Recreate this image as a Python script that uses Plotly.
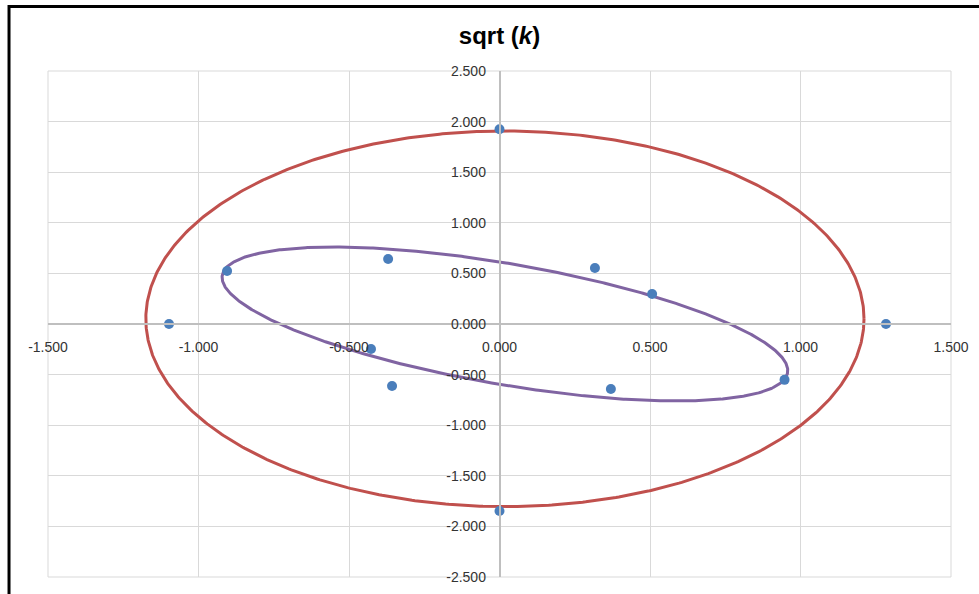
import numpy as np
import plotly.graph_objects as go

# ---- data ----
pts_x = [0.000, -1.098, 1.284, 0.000, -0.905, -0.370, 0.317, 0.507, 0.947, 0.370, -0.357, -0.427]
pts_y = [1.925, 0.000, 0.000, -1.848, 0.524, 0.642, 0.553, 0.296, -0.552, -0.642, -0.613, -0.247]

# ellipse parameters: centre x, centre y, semi-axis a, semi-axis b, rotation (deg)
red_ellipse = [0.018, 0.051, 1.193, 1.856, 0.0]
purple_ellipse = [0.018, 0.000, 1.0905, 0.5215, -35.3]

x_ticks = [-1.5, -1.0, -0.5, 0.0, 0.5, 1.0, 1.5]
x_labels = ["-1.500", "-1.000", "-0.500", "0.000", "0.500", "1.000", "1.500"]
y_ticks = [-2.5, -2.0, -1.5, -1.0, -0.5, 0.0, 0.5, 1.0, 1.5, 2.0, 2.5]
y_labels = ["-2.500", "-2.000", "-1.500", "-1.000", "-0.500", "0.000",
            "0.500", "1.000", "1.500", "2.000", "2.500"]


def ellipse_xy(p):
    cx, cy, a, b, ang = p
    t = np.linspace(0, 2 * np.pi, 721)
    th = np.deg2rad(ang)
    ex = a * np.cos(t)
    ey = b * np.sin(t)
    return cx + ex * np.cos(th) - ey * np.sin(th), cy + ex * np.sin(th) + ey * np.cos(th)


rx, ry = ellipse_xy(red_ellipse)
px_, py_ = ellipse_xy(purple_ellipse)

fig = go.Figure()
fig.add_trace(go.Scatter(x=rx, y=ry, mode="lines", line=dict(color="#c0504d", width=3),
                         hoverinfo="skip", showlegend=False))
fig.add_trace(go.Scatter(x=px_, y=py_, mode="lines", line=dict(color="#8064a2", width=3),
                         hoverinfo="skip", showlegend=False))
fig.add_trace(go.Scatter(x=pts_x, y=pts_y, mode="markers",
                         marker=dict(color="#4a7ebb", size=10), showlegend=False))

L, R, T, B = 48, 27.5, 71, 17
W, H = 979, 594
pw, ph = W - L - R, H - T - B


def pxx(px):
    return (px - L) / pw


def pyy(py):
    return (H - B - py) / ph


tickfont = dict(family="Liberation Sans, Arial, sans-serif", size=14, color="#333333")

fig.update_layout(
    width=W, height=H,
    margin=dict(l=L, r=R, t=T, b=B, autoexpand=False),
    paper_bgcolor="white", plot_bgcolor="white",
    title=dict(text="<b>sqrt (<i>k</i>)</b>", x=0.5, xref="paper", xanchor="center",
               y=1 - 36 / H, yref="container", yanchor="middle",
               font=dict(family="Liberation Sans Narrow, Arial Narrow, Liberation Sans, sans-serif",
                         size=24, color="#000000")),
    xaxis=dict(range=[-1.5, 1.5], tickmode="array", tickvals=x_ticks, ticktext=x_labels,
               showgrid=True, gridcolor="#d9d9d9", gridwidth=1, zeroline=False,
               showline=True, linecolor="#bfbfbf", linewidth=1.5,
               anchor="free", position=0.5, ticks="", ticklabelstandoff=10,
               tickfont=tickfont, fixedrange=True, automargin=False),
    yaxis=dict(range=[-2.5, 2.5], tickmode="array", tickvals=y_ticks, ticktext=y_labels,
               showgrid=True, gridcolor="#d9d9d9", gridwidth=1, zeroline=False,
               showline=True, linecolor="#bfbfbf", linewidth=1.5,
               anchor="free", position=0.5, ticks="", ticklabelstandoff=10,
               tickfont=tickfont, fixedrange=True, automargin=False),
    shapes=[
        dict(type="rect", xref="paper", yref="paper", x0=0, x1=1, y0=0, y1=1,
             line=dict(color="#d9d9d9", width=1), layer="below"),
        dict(type="line", xref="paper", yref="paper", x0=pxx(9), x1=pxx(1000),
             y0=pyy(6.5), y1=pyy(6.5), line=dict(color="black", width=3)),
        dict(type="line", xref="paper", yref="paper", x0=pxx(9), x1=pxx(9),
             y0=pyy(5), y1=pyy(610), line=dict(color="black", width=3)),
    ],
)

fig.write_html("out.html")
